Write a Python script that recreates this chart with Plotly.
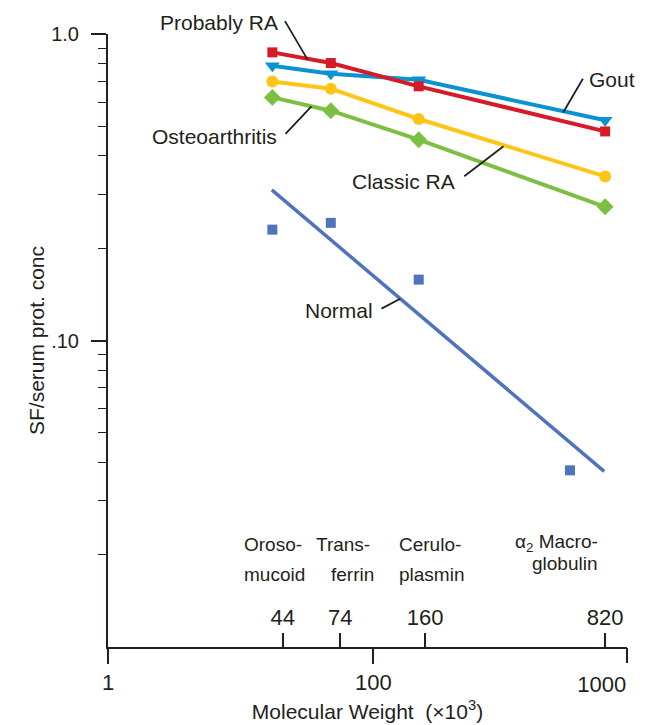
import numpy as np
import plotly.graph_objects as go

# ---------------- data ----------------
mw = [40, 68, 151, 820]                      # molecular weight (x10^3) of plotted points
probably_ra = [0.871, 0.804, 0.675, 0.481]
gout = [0.788, 0.742, 0.709, 0.523]
classic_ra = [0.700, 0.663, 0.528, 0.343]
osteoarthritis = [0.621, 0.562, 0.452, 0.273]

normal_mw = [40, 68, 151, 596]
normal = [0.230, 0.242, 0.158, 0.0377]
normal_fit_mw = [39.8, 813]
normal_fit = [0.310, 0.0374]

protein_ticks = [44, 74, 160, 820]
protein_tick_text = ["44", "74", "160", "820"]
x_tick_vals = [9, 100]
x_tick_text = ["1", "100"]
x_end_tick = [1000]
x_end_text = ["1000"]
y_tick_vals = [0.01, 0.1, 1.0]
y_tick_text = [".01", ".10", "1.0"]
y_minor = [0.02, 0.03, 0.04, 0.05, 0.06, 0.07, 0.08, 0.09,
           0.2, 0.3, 0.4, 0.5, 0.6, 0.7, 0.8, 0.9]

# series labels (paper coords): text, x, y, leader x0, y0, x1, y1
series_labels = [
    ("Probably RA", 0.214, 1.019, 0.341, 1.021, 0.384, 0.959),
    ("Osteoarthritis", 0.205, 0.833, 0.342, 0.837, 0.392, 0.882),
    ("Gout", 0.971, 0.925, 0.915, 0.927, 0.877, 0.872),
    ("Classic RA", 0.570, 0.7595, 0.6865, 0.768, 0.762, 0.817),
    ("Normal", 0.446, 0.549, 0.527, 0.552, 0.563, 0.568),
]
# protein names (paper coords): text, x, y
protein_names = [
    ("Oroso-", 0.318, 0.167), ("mucoid", 0.320, 0.118),
    ("Trans-", 0.453, 0.167), ("ferrin", 0.472, 0.118),
    ("Cerulo-", 0.620, 0.167), ("plasmin", 0.624, 0.118),
    ("α<sub>2</sub> Macro-", 0.865, 0.170), ("globulin", 0.880, 0.136),
]

FONT = "Liberation Sans, Arial, Helvetica, sans-serif"
INK = "#231f20"
RED = "#d71a28"
BLUE = "#0b92d0"
YELLOW = "#ffc516"
GREEN = "#7cc043"
NAVY = "#4f73bd"

fig = go.Figure()

fig.add_trace(go.Scatter(x=mw, y=gout, mode="lines+markers",
                         line=dict(color=BLUE, width=4),
                         marker=dict(symbol="triangle-down", size=13, color=BLUE)))
fig.add_trace(go.Scatter(x=mw, y=probably_ra, mode="lines+markers",
                         line=dict(color=RED, width=4),
                         marker=dict(symbol="square", size=10, color=RED)))
fig.add_trace(go.Scatter(x=mw, y=classic_ra, mode="lines+markers",
                         line=dict(color=YELLOW, width=4),
                         marker=dict(symbol="circle", size=12, color=YELLOW)))
fig.add_trace(go.Scatter(x=mw, y=osteoarthritis, mode="lines+markers",
                         line=dict(color=GREEN, width=4),
                         marker=dict(symbol="diamond", size=13, color=GREEN)))
# the Normal traces live on the overlay axes (same scale) so those axes get drawn
fig.add_trace(go.Scatter(x=normal_mw, y=normal, mode="markers", xaxis="x2", yaxis="y",
                         marker=dict(symbol="square", size=10, color=NAVY)))
fig.add_trace(go.Scatter(x=normal_fit_mw, y=normal_fit, mode="lines", xaxis="x3", yaxis="y",
                         line=dict(color=NAVY, width=3.5)))

annotations = []
shapes = []
for text, lx, ly, x0, y0, x1, y1 in series_labels:
    annotations.append(dict(x=lx, y=ly, xref="paper", yref="paper",
                            xanchor="center", yanchor="middle",
                            text=text, showarrow=False,
                            font=dict(family=FONT, size=21, color=INK)))
    shapes.append(dict(type="line", xref="paper", yref="paper",
                       x0=x0, y0=y0, x1=x1, y1=y1,
                       line=dict(color=INK, width=1.8)))
for text, px_, py_ in protein_names:
    annotations.append(dict(x=px_, y=py_, xref="paper", yref="paper",
                            xanchor="center", yanchor="middle",
                            text=text, showarrow=False,
                            font=dict(family=FONT, size=19, color=INK)))

xrange = [np.log10(9), np.log10(1000)]
common_x = dict(type="log", range=xrange, showgrid=False, zeroline=False,
                automargin=False, tickcolor=INK, tickwidth=1.6,
                tickfont=dict(family=FONT, size=22, color=INK))

fig.update_layout(
    width=647, height=725,
    margin=dict(l=108, r=20, t=34, b=78, autoexpand=False),
    paper_bgcolor="white", plot_bgcolor="white",
    showlegend=False,
    font=dict(family=FONT, color=INK),
    annotations=annotations,
    shapes=shapes,
    xaxis=dict(**common_x, tickmode="array", tickvals=x_tick_vals, ticktext=x_tick_text,
               ticks="outside", ticklen=15, showline=True, linewidth=2, linecolor=INK,
               title=dict(text="Molecular Weight  (×10<sup>3</sup>)",
                          font=dict(family=FONT, size=21, color=INK), standoff=10)),
    xaxis2=dict(**common_x, overlaying="x", anchor="y", side="bottom",
                tickmode="array", tickvals=protein_ticks, ticktext=protein_tick_text,
                ticks="inside", ticklen=14, ticklabelposition="inside",
                ticklabelstandoff=5, showline=False),
    xaxis3=dict(**common_x, overlaying="x", anchor="y", side="bottom",
                tickmode="array", tickvals=x_end_tick, ticktext=x_end_text,
                ticks="outside", ticklen=15, ticklabelposition="outside left",
                ticklabelstandoff=18, showline=False),
    yaxis=dict(type="log", range=[-2, 0], showgrid=False, zeroline=False,
               automargin=False,
               tickmode="array", tickvals=y_tick_vals, ticktext=y_tick_text,
               ticks="outside", ticklen=15, tickwidth=1.6, tickcolor=INK,
               showline=True, linewidth=2, linecolor=INK, ticklabelstandoff=8,
               tickfont=dict(family=FONT, size=20, color=INK),
               minor=dict(tickmode="array", tickvals=y_minor, ticks="outside",
                          ticklen=8, tickwidth=1.4, tickcolor=INK, showgrid=False),
               title=dict(text="SF/serum prot. conc",
                          font=dict(family=FONT, size=21, color=INK), standoff=1)),
)

fig.write_html("out.html", config={"displayModeBar": False},
               post_script="document.body.style.margin='0px';")
